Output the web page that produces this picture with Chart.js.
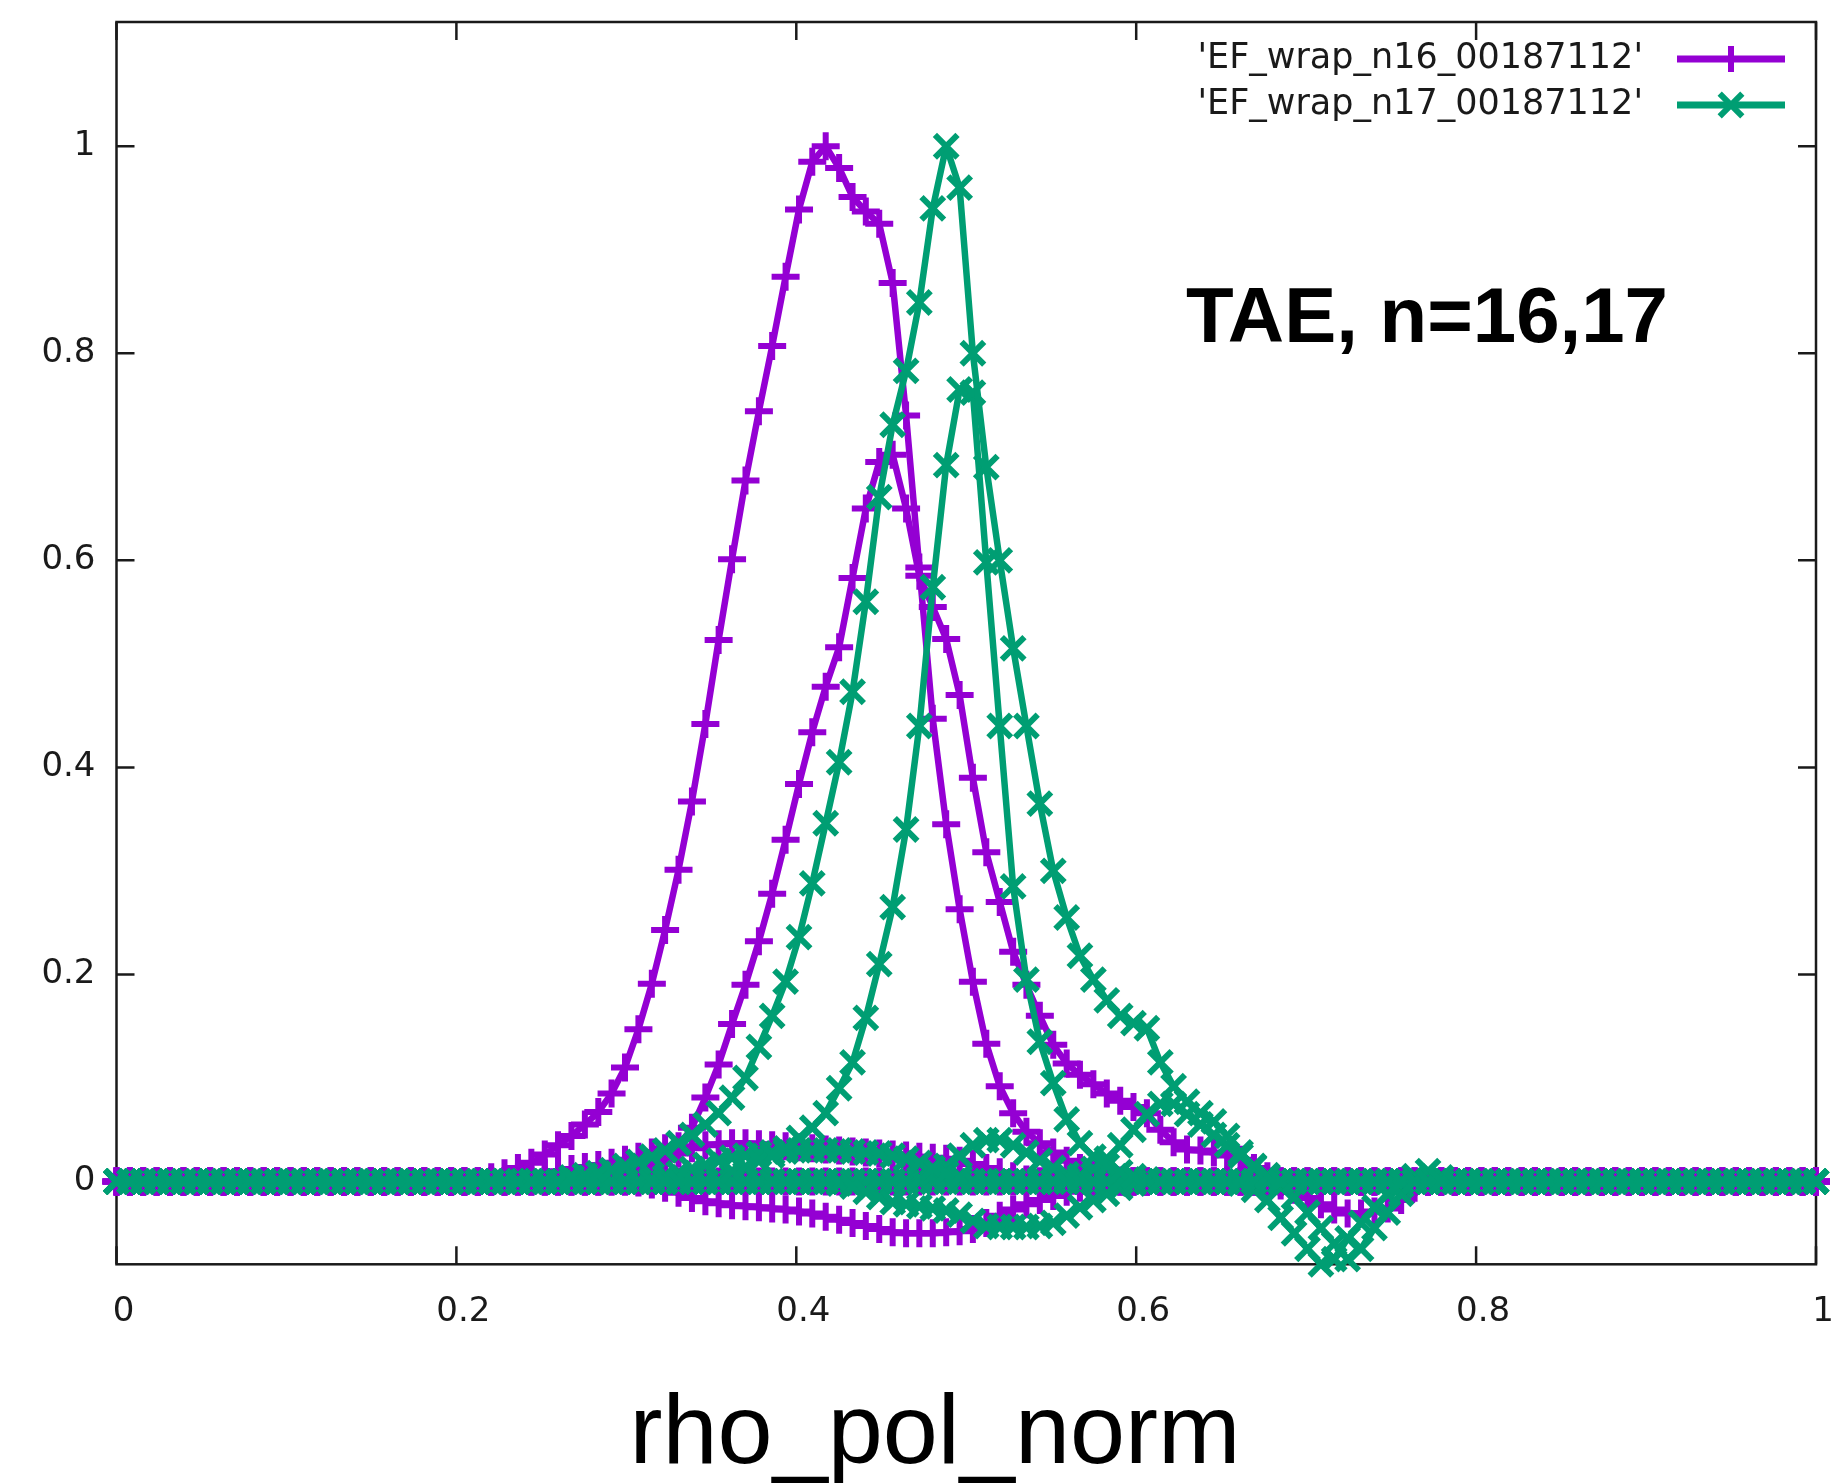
<!DOCTYPE html>
<html>
<head>
<meta charset="utf-8">
<script src="https://cdn.jsdelivr.net/npm/chart.js@4.4.1/dist/chart.umd.min.js"></script>
<style>
  html, body { margin: 0; padding: 0; background: #fff; }
  #wrap { position: relative; width: 1838px; height: 1484px; }
</style>
</head>
<body>
<div id="wrap"><canvas id="efChart" width="1838" height="1484"></canvas></div>
<script>
// radial grid, 128 points from 0 to 1
const rho = [
  0.0000, 0.0079, 0.0157, 0.0236, 0.0315, 0.0394, 0.0472, 0.0551, 0.0630, 0.0709,
  0.0787, 0.0866, 0.0945, 0.1024, 0.1102, 0.1181, 0.1260, 0.1339, 0.1417, 0.1496,
  0.1575, 0.1654, 0.1732, 0.1811, 0.1890, 0.1969, 0.2047, 0.2126, 0.2205, 0.2283,
  0.2362, 0.2441, 0.2520, 0.2598, 0.2677, 0.2756, 0.2835, 0.2913, 0.2992, 0.3071,
  0.3150, 0.3228, 0.3307, 0.3386, 0.3465, 0.3543, 0.3622, 0.3701, 0.3780, 0.3858,
  0.3937, 0.4016, 0.4094, 0.4173, 0.4252, 0.4331, 0.4409, 0.4488, 0.4567, 0.4646,
  0.4724, 0.4803, 0.4882, 0.4961, 0.5039, 0.5118, 0.5197, 0.5276, 0.5354, 0.5433,
  0.5512, 0.5591, 0.5669, 0.5748, 0.5827, 0.5906, 0.5984, 0.6063, 0.6142, 0.6220,
  0.6299, 0.6378, 0.6457, 0.6535, 0.6614, 0.6693, 0.6772, 0.6850, 0.6929, 0.7008,
  0.7087, 0.7165, 0.7244, 0.7323, 0.7402, 0.7480, 0.7559, 0.7638, 0.7717, 0.7795,
  0.7874, 0.7953, 0.8031, 0.8110, 0.8189, 0.8268, 0.8346, 0.8425, 0.8504, 0.8583,
  0.8661, 0.8740, 0.8819, 0.8898, 0.8976, 0.9055, 0.9134, 0.9213, 0.9291, 0.9370,
  0.9449, 0.9528, 0.9606, 0.9685, 0.9764, 0.9843, 0.9921, 1.0000
];

// n16 harmonics; each list begins at rho[start], the rest of the grid sits on 0
const n16Start = [28, 30, 37, 39, 86];
const n16_h1 = [0.004, 0.008, 0.013, 0.018, 0.026, 0.035, 0.044, 0.055, 0.067, 0.085, 0.110, 0.147, 0.191, 0.243,
  0.301, 0.367, 0.442, 0.523, 0.601, 0.677, 0.744, 0.807, 0.874, 0.939, 0.985, 1.000, 0.979, 0.951, 0.937, 0.925,
  0.868, 0.740, 0.593, 0.447, 0.345, 0.263, 0.193, 0.133, 0.092, 0.066, 0.048, 0.037, 0.028, 0.020, 0.013, 0.008, 0.004, 0.001];
const n16_h2 = [0.004, 0.006, 0.008, 0.010, 0.012, 0.014, 0.016, 0.018, 0.021, 0.024, 0.028, 0.032, 0.034, 0.052,
  0.081, 0.113, 0.152, 0.190, 0.232, 0.278, 0.330, 0.384, 0.434, 0.478, 0.516, 0.583, 0.650, 0.695, 0.702, 0.650,
  0.585, 0.555, 0.524, 0.470, 0.390, 0.318, 0.270, 0.222, 0.190, 0.160, 0.132, 0.114, 0.103, 0.094, 0.085, 0.078,
  0.072, 0.066, 0.050, 0.038, 0.031, 0.030, 0.028, 0.025, 0.021, 0.013, 0.005, 0.000];
const n16_h3 = [0.003, 0.006, 0.010, 0.015, 0.021, 0.027, 0.032, 0.035, 0.036, 0.037, 0.037, 0.036, 0.035, 0.034,
  0.033, 0.032, 0.031, 0.030, 0.029, 0.028, 0.027, 0.026, 0.025, 0.024, 0.023, 0.022, 0.020, 0.017, 0.013, 0.009,
  0.005, 0.002, 0.000];
const n16_h4 = [-0.001, -0.003, -0.006, -0.011, -0.016, -0.019, -0.021, -0.023, -0.024, -0.025, -0.026, -0.027,
  -0.029, -0.031, -0.034, -0.037, -0.040, -0.043, -0.046, -0.049, -0.050, -0.050, -0.050, -0.049, -0.048, -0.046,
  -0.040, -0.033, -0.027, -0.022, -0.018, -0.014, -0.010, -0.006, -0.003, 0.000];
const n16_h5 = [-0.002, -0.004, -0.008, -0.016, -0.022, -0.027, -0.031, -0.031, -0.029, -0.026, -0.018, -0.006, 0.000];

// n17 harmonics
const n17Start = [34, 46, 40, 54, 59, 71, 83, 86];
const n17_h1 = [0.004, 0.006, 0.008, 0.011, 0.015, 0.019, 0.024, 0.030, 0.037, 0.045, 0.055, 0.066, 0.081, 0.100,
  0.130, 0.160, 0.193, 0.236, 0.288, 0.346, 0.405, 0.473, 0.560, 0.661, 0.731, 0.783, 0.849, 0.940, 1.000, 0.960,
  0.800, 0.690, 0.600, 0.515, 0.440, 0.365, 0.300, 0.255, 0.218, 0.195, 0.175, 0.160, 0.153, 0.148, 0.115, 0.092,
  0.077, 0.066, 0.058, 0.044, 0.028, 0.014, 0.005, 0.000];
const n17_h2 = [0.010, 0.014, 0.020, 0.025, 0.032, 0.042, 0.052, 0.066, 0.090, 0.115, 0.158, 0.210, 0.265, 0.340,
  0.440, 0.574, 0.692, 0.765, 0.762, 0.598, 0.440, 0.285, 0.195, 0.135, 0.095, 0.060, 0.037, 0.024, 0.015, 0.009,
  0.005, 0.002, 0.000];
const n17_h3 = [0.002, 0.004, 0.008, 0.012, 0.016, 0.020, 0.023, 0.025, 0.027, 0.028, 0.029, 0.030, 0.030, 0.030,
  0.030, 0.029, 0.028, 0.027, 0.025, 0.022, 0.018, 0.013, 0.008, 0.004, 0.000];
const n17_h4 = [-0.002, -0.005, -0.010, -0.015, -0.020, -0.022, -0.024, -0.026, -0.028, -0.032, -0.038, -0.043,
  -0.044, -0.044, -0.044, -0.043, -0.040, -0.033, -0.025, -0.018, -0.012, -0.006, -0.002, 0.000];
const n17_h5 = [0.001, 0.003, 0.008, 0.015, 0.025, 0.035, 0.040, 0.040, 0.035, 0.028, 0.020, 0.013, 0.007, 0.003, 0.000];
const n17_h6 = [0.002, 0.005, 0.012, 0.022, 0.035, 0.050, 0.065, 0.075, 0.075, 0.065, 0.055, 0.045, 0.035, 0.025,
  0.015, 0.006, 0.000];
const n17_h7 = [0.000, -0.002, -0.008, -0.018, -0.035, -0.050, -0.065, -0.080, -0.075, -0.055, -0.040, -0.025, -0.012, -0.004, 0.000];
const n17_h8 = [0.000, -0.005, -0.015, -0.030, -0.045, -0.060, -0.075, -0.065, -0.045, -0.030, -0.012, 0.005, 0.010, 0.004, 0.000];

const xTicks = [0, 0.2, 0.4, 0.6, 0.8, 1];
const yTicks = [0, 0.2, 0.4, 0.6, 0.8, 1];
const seriesNames = ["'EF_wrap_n16_00187112'", "'EF_wrap_n17_00187112'"];

const PURPLE = '#9400d3';
const GREEN = '#009e73';
const INK = '#1a1a1a';

function onGrid(start, vals) {
  return rho.map((x, i) => {
    const k = i - start;
    return { x, y: k >= 0 && k < vals.length ? vals[k] : 0 };
  });
}

function harmonic(start, vals, color, style, radius, order) {
  return {
    data: onGrid(start, vals),
    borderColor: color,
    backgroundColor: color,
    borderWidth: 6.5,
    borderJoinStyle: 'round',
    pointStyle: style,
    pointRadius: radius,
    pointBorderWidth: 6,
    pointBorderColor: color,
    pointBackgroundColor: color,
    tension: 0,
    clip: false,
    order
  };
}

const datasets = [
  ...[n16_h1, n16_h2, n16_h3, n16_h4, n16_h5].map((h, k) => harmonic(n16Start[k], h, PURPLE, 'cross', 14, 2)),
  ...[n17_h1, n17_h2, n17_h3, n17_h4, n17_h5, n17_h6, n17_h7, n17_h8].map((h, k) => harmonic(n17Start[k], h, GREEN, 'crossRot', 16, 1))
];

function marker(ctx, style, x, y, r) {
  ctx.beginPath();
  if (style === 'cross') {
    ctx.moveTo(x - r, y); ctx.lineTo(x + r, y);
    ctx.moveTo(x, y - r); ctx.lineTo(x, y + r);
  } else {
    const d = r * Math.SQRT1_2;
    ctx.moveTo(x - d, y - d); ctx.lineTo(x + d, y + d);
    ctx.moveTo(x + d, y - d); ctx.lineTo(x - d, y + d);
  }
  ctx.stroke();
}

// gnuplot style frame with inward ticks on all four sides
const framePlugin = {
  id: 'frame',
  beforeDatasetsDraw(chart) {
    const { ctx, chartArea: a, scales } = chart;
    ctx.save();
    ctx.strokeStyle = INK;
    ctx.lineWidth = 2.5;
    ctx.strokeRect(a.left, a.top, a.right - a.left, a.bottom - a.top);
    ctx.beginPath();
    xTicks.forEach((v) => {
      const px = scales.x.getPixelForValue(v);
      ctx.moveTo(px, a.bottom); ctx.lineTo(px, a.bottom - 18);
      ctx.moveTo(px, a.top); ctx.lineTo(px, a.top + 18);
    });
    yTicks.forEach((v) => {
      const py = scales.y.getPixelForValue(v);
      ctx.moveTo(a.left, py); ctx.lineTo(a.left + 18, py);
      ctx.moveTo(a.right, py); ctx.lineTo(a.right - 18, py);
    });
    ctx.stroke();
    ctx.restore();
  },
  afterDraw(chart) {
    const { ctx } = chart;
    ctx.save();
    // key, text first then sample, as gnuplot does
    ctx.font = '35px "DejaVu Sans"';
    ctx.textAlign = 'right';
    ctx.textBaseline = 'middle';
    [[PURPLE, 'cross', 59, 13], [GREEN, 'crossRot', 105, 16]].forEach(([color, style, y, r], k) => {
      ctx.fillStyle = INK;
      ctx.fillText(seriesNames[k], 1643, y);
      ctx.strokeStyle = color;
      ctx.lineWidth = 7;
      ctx.beginPath();
      ctx.moveTo(1677, y); ctx.lineTo(1785, y);
      ctx.stroke();
      ctx.lineWidth = 6;
      marker(ctx, style, 1731, y, r);
    });

    ctx.fillStyle = '#000';
    ctx.textAlign = 'left';
    ctx.textBaseline = 'alphabetic';
    ctx.font = 'bold 78px "Liberation Sans"';
    ctx.fillText('TAE, n=16,17', 1186, 342);

    ctx.textAlign = 'center';
    ctx.font = '99px "Liberation Sans"';
    ctx.fillText('rho_pol_norm', 935, 1463);
    ctx.restore();
  }
};

const tickFont = { family: 'DejaVu Sans', size: 34 };

new Chart(document.getElementById('efChart'), {
  type: 'line',
  data: { datasets },
  options: {
    responsive: false,
    devicePixelRatio: 1,
    animation: false,
    events: [],
    layout: { padding: { top: 19.5, right: 16.5, left: 0, bottom: 0 } },
    scales: {
      x: {
        type: 'linear',
        min: 0,
        max: 1,
        grid: { display: false, drawTicks: false },
        border: { display: false },
        afterBuildTicks: (s) => { s.ticks = xTicks.map((v) => ({ value: v })); },
        afterFit: (s) => { s.height = 219.7; s.paddingLeft = 0; s.paddingRight = 0; },
        ticks: { font: tickFont, color: INK, padding: 27, labelOffset: 7, maxRotation: 0, callback: (v) => String(v) }
      },
      y: {
        type: 'linear',
        min: -0.08,
        max: 1.12,
        grid: { display: false, drawTicks: false },
        border: { display: false },
        afterBuildTicks: (s) => { s.ticks = yTicks.map((v) => ({ value: v })); },
        afterFit: (s) => { s.width = 116.5; s.paddingTop = 0; s.paddingBottom = 0; },
        ticks: { font: tickFont, color: INK, padding: 21, callback: (v) => String(v) }
      }
    },
    plugins: { legend: { display: false }, tooltip: { enabled: false } }
  },
  plugins: [framePlugin]
});
</script>
</body>
</html>
